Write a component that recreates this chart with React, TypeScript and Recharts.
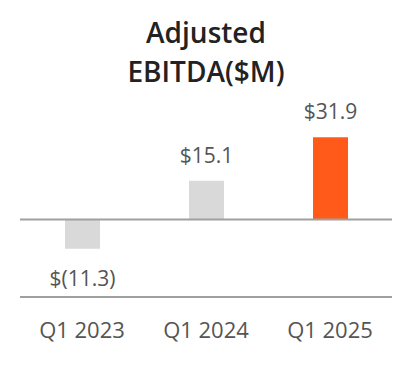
import React from 'react';
import { BarChart, Bar, XAxis, YAxis, ReferenceLine, LabelList, Cell } from 'recharts';

const categories = ['Q1 2023', 'Q1 2024', 'Q1 2025'];
const values = [-11.3, 15.1, 31.9];
const valueLabels = ['$(11.3)', '$15.1', '$31.9'];
const barColors = ['#d9d9d9', '#d9d9d9', '#ff5a1a'];
const titleLines = ['Adjusted', 'EBITDA($M)'];

const data = categories.map((c, i) => ({ name: c, value: values[i], label: valueLabels[i], color: barColors[i] }));

const FONT = '"Open Sans", sans-serif';

const Tick = (props: any) => {
  const { x, y, payload } = props;
  return (
    <text x={x} y={y + 41} textAnchor="middle" fill="#555" fontSize={22} fontFamily={FONT}>
      {payload.value}
    </text>
  );
};

const ValueLabel = (props: any) => {
  const { x, y, width, height, index } = props;
  const v = values[index];
  const cx = x + width / 2;
  const top = Math.min(y, y + height);
  const bottom = Math.max(y, y + height);
  const ty = v >= 0 ? top - 18 : bottom + 37;
  return (
    <text x={cx} y={ty} textAnchor="middle" fill="#555" fontSize={21} fontFamily={FONT}>
      {valueLabels[index]}
    </text>
  );
};

export default function App() {
  return (
    <div style={{ position: 'absolute', left: 0, top: 0, width: 412, height: 384, background: '#fff' }}>
      <BarChart width={412} height={384} data={data} margin={{ top: 88, right: 20, bottom: 0, left: 20 }}>
        <YAxis hide domain={[-30, 51]} />
        <XAxis
          dataKey="name"
          height={87}
          tickSize={0}
          tickMargin={0}
          axisLine={{ stroke: '#a0a0a0', strokeWidth: 2 }}
          tickLine={false}
          tick={<Tick />}
        />
        <ReferenceLine y={0} stroke="#a0a0a0" strokeWidth={2} />
        <Bar dataKey="value" barSize={35} isAnimationActive={false}>
          {data.map((d, i) => (
            <Cell key={i} fill={d.color} />
          ))}
          <LabelList dataKey="label" content={<ValueLabel />} />
        </Bar>
      </BarChart>
      <svg width={412} height={90} style={{ position: 'absolute', left: 0, top: 0 }}>
        <text x={206} y={43} textAnchor="middle" fontSize={28} fontWeight={600} fill="#222" fontFamily={FONT}>
          {titleLines[0]}
        </text>
        <text x={206} y={82} textAnchor="middle" fontSize={28} fontWeight={600} fill="#222" fontFamily={FONT}>
          {titleLines[1]}
        </text>
      </svg>
    </div>
  );
}
